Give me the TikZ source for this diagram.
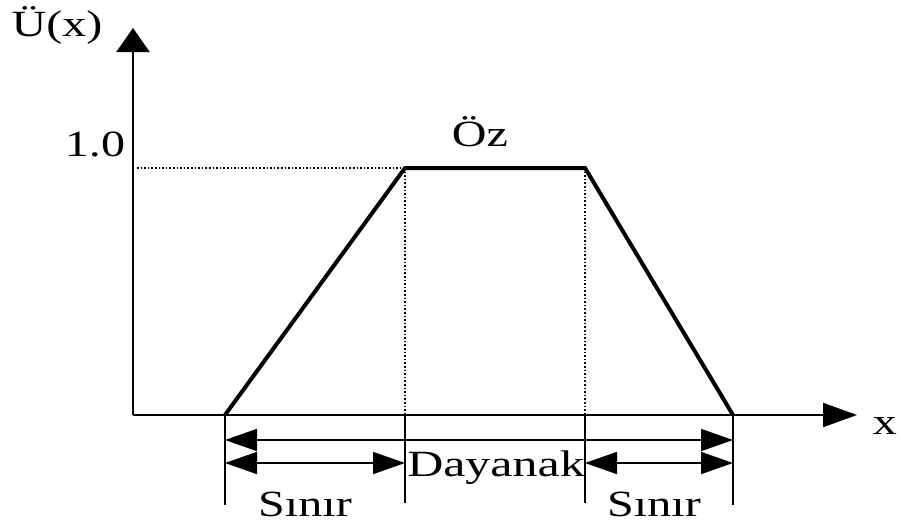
\documentclass[tikz,border=0pt]{standalone}
\usepackage{fontspec}
\setmainfont{Liberation Serif}
\usetikzlibrary{arrows.meta}
\begin{document}
\begin{tikzpicture}[x=1pt,y=-1pt,
  lbl/.style={inner sep=0pt,anchor=base,font=\fontsize{37}{42}\selectfont},
  axis/.style={line width=2.2pt},
  curve/.style={line width=4pt,line join=miter},
  guide/.style={line width=1.6pt,dotted},
  tick/.style={line width=2.2pt},
  dim/.style={line width=1.8pt,{Triangle[length=32pt,width=22pt]}-{Triangle[length=32pt,width=22pt]}}]
\useasboundingbox (0,0) rectangle (901,523);
% key points
\coordinate (O) at (133,415);
\coordinate (ytop) at (133,28);
\coordinate (xend) at (857,415);
\coordinate (a) at (225,415);
\coordinate (b) at (405,168);
\coordinate (c) at (585,168);
\coordinate (d) at (733,415);
\coordinate (b0) at (405,415);
\coordinate (c0) at (585,415);
\coordinate (y1) at (137,168);
\coordinate (aB) at (225,505);
\coordinate (bB) at (405,503);
\coordinate (cB) at (585,503);
\coordinate (dB) at (733,505);
\coordinate (a1) at (225,440);
\coordinate (d1) at (733,440);
\coordinate (a2) at (225,463);
\coordinate (b2) at (405,463);
\coordinate (c2) at (585,463);
\coordinate (d2) at (733,463);
% axes
\draw[axis,-{Triangle[length=24pt,width=33pt]}] (O) -- (ytop);
\draw[axis,-{Triangle[length=34pt,width=24pt]}] (O) -- (xend);
% guides
\draw[guide] (y1) -- (b);
\draw[guide] (b) -- (b0);
\draw[guide] (c) -- (c0);
% trapezoid
\draw[curve] (a) -- (b) -- (c) -- (d);
% ticks below axis
\draw[tick] (a) -- (aB);
\draw[tick] (b0) -- (bB);
\draw[tick] (c0) -- (cB);
\draw[tick] (d) -- (dB);
% dimension arrows
\draw[dim] (a1) -- (d1);
\draw[dim] (a2) -- (b2);
\draw[dim] (c2) -- (d2);
% labels
\node[lbl] (ux) at (57,36) {\scalebox{1.3}[1]{Ü(x)}};
\node[lbl] (one) at (95,156) {\scalebox{1.3}[1]{1.0}};
\node[lbl] (oz) at (480,146) {\scalebox{1.3}[1]{Öz}};
\node[lbl] (xl) at (885,434) {\scalebox{1.3}[1]{x}};
\node[lbl] (day) at (496,476) {\scalebox{1.35}[1]{Dayanak}};
\node[lbl] (s1) at (305,516) {\scalebox{1.3}[1]{Sınır}};
\node[lbl] (s2) at (654,516) {\scalebox{1.3}[1]{Sınır}};
\end{tikzpicture}
\end{document}
